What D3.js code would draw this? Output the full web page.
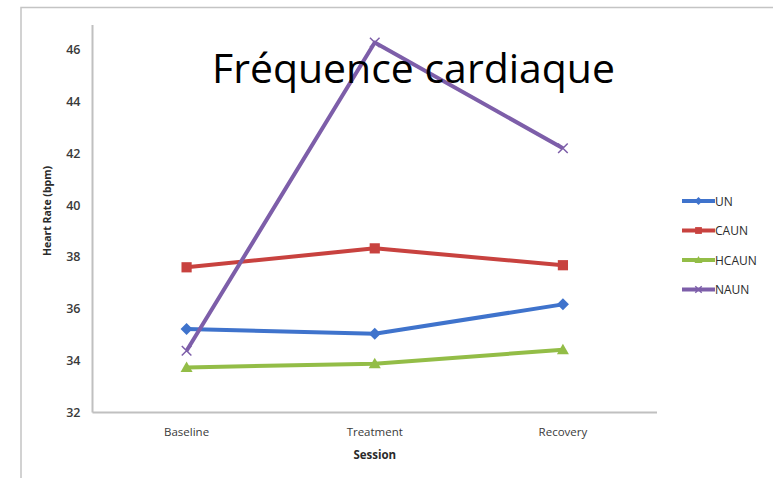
<!DOCTYPE html>
<html>
<head>
<meta charset="utf-8">
<script src="https://cdn.jsdelivr.net/npm/d3@7"></script>
<style>
  html, body { margin: 0; padding: 0; background: #fff; }
  svg { display: block; }
</style>
</head>
<body>
<svg id="chart" width="773" height="478"></svg>
<script>
// Heart rate per session for each group
const sessions = ["Baseline", "Treatment", "Recovery"];
const seriesNames = ["UN", "CAUN", "HCAUN", "NAUN"];
const unValues    = [35.22, 35.04, 36.17];
const caunValues  = [37.60, 38.33, 37.68];
const hcaunValues = [33.74, 33.88, 34.42];
const naunValues  = [34.38, 46.27, 42.19];
const yTicks = [32, 34, 36, 38, 40, 42, 44, 46];

const series = [
  { name: seriesNames[0], values: unValues,    color: "#3f73cc", marker: "diamond" },
  { name: seriesNames[1], values: caunValues,  color: "#c8423f", marker: "square" },
  { name: seriesNames[2], values: hcaunValues, color: "#93bd47", marker: "triangle" },
  { name: seriesNames[3], values: naunValues,  color: "#7d5ea9", marker: "cross" }
];

const svg = d3.select("#chart");
const W = 773, H = 478;

// outer chart frame
svg.append("rect")
  .attr("x", 21).attr("y", 7.5)
  .attr("width", W + 20).attr("height", H + 20)
  .attr("fill", "#fff").attr("stroke", "#c4c4c4").attr("stroke-width", 1.5);

const plot = { left: 92.5, right: 657, top: 25, bottom: 412.5 };

const x = d3.scaleBand().domain(sessions).range([plot.left, plot.right]);
const y = d3.scaleLinear().domain([32, 46.5]).range([plot.bottom, plot.bottom - 14.5 * 25.93]);

// axes
const yAxis = d3.axisLeft(y).tickValues(yTicks).tickSize(0).tickPadding(12).tickFormat(d3.format("d"));
const gy = svg.append("g").attr("transform", `translate(${plot.left},0)`).call(yAxis);
gy.select(".domain").remove();
gy.selectAll("text")
  .attr("font-family", "Open Sans, sans-serif").attr("font-size", 12.5)
  .attr("font-weight", 600).attr("fill", "#3a3a3a");

const xAxis = d3.axisBottom(x).tickSize(0).tickPadding(15);
const gx = svg.append("g").attr("transform", `translate(0,${plot.bottom})`).call(xAxis);
gx.select(".domain").remove();
gx.selectAll("text")
  .attr("font-family", "Open Sans, sans-serif").attr("font-size", 11.5)
  .attr("fill", "#3a3a3a");

// axis lines
svg.append("line")
  .attr("x1", plot.left).attr("x2", plot.left)
  .attr("y1", plot.top).attr("y2", plot.bottom)
  .attr("stroke", "#c0c0c0").attr("stroke-width", 2);
svg.append("line")
  .attr("x1", plot.left).attr("x2", plot.right)
  .attr("y1", plot.bottom).attr("y2", plot.bottom)
  .attr("stroke", "#c0c0c0").attr("stroke-width", 2);

// axis titles
svg.append("text")
  .attr("transform", `translate(51,211) rotate(-90)`)
  .attr("text-anchor", "middle")
  .attr("font-family", "Open Sans, sans-serif").attr("font-size", 10.5)
  .attr("font-weight", 700).attr("fill", "#2a2a2a")
  .text("Heart Rate (bpm)");
svg.append("text")
  .attr("x", x("Treatment") + x.bandwidth() / 2).attr("y", 459)
  .attr("text-anchor", "middle")
  .attr("font-family", "Open Sans, sans-serif").attr("font-size", 11.5)
  .attr("font-weight", 700).attr("fill", "#2a2a2a")
  .text("Session");

const cx = d => x(d) + x.bandwidth() / 2;

function drawMarker(g, type, color, size) {
  const s = size;
  if (type === "diamond") {
    g.append("path").attr("d", `M0,${-s}L${s},0L0,${s}L${-s},0Z`).attr("fill", color);
  } else if (type === "square") {
    g.append("rect").attr("x", -s * 0.85).attr("y", -s * 0.85)
      .attr("width", s * 1.7).attr("height", s * 1.7).attr("fill", color);
  } else if (type === "triangle") {
    g.append("path").attr("d", `M0,${-s}L${s},${s * 0.75}L${-s},${s * 0.75}Z`).attr("fill", color);
  } else {
    g.append("path").attr("d", `M${-s * 0.8},${-s * 0.8}L${s * 0.8},${s * 0.8}M${-s * 0.8},${s * 0.8}L${s * 0.8},${-s * 0.8}`)
      .attr("stroke", color).attr("stroke-width", 1.5).attr("fill", "none");
  }
}

const line = d3.line().x((d, i) => cx(sessions[i])).y(d => y(d));

series.forEach(s => {
  svg.append("path")
    .attr("d", line(s.values))
    .attr("fill", "none").attr("stroke", s.color)
    .attr("stroke-width", 4).attr("stroke-linejoin", "round");
  s.values.forEach((v, i) => {
    const g = svg.append("g").attr("transform", `translate(${cx(sessions[i])},${y(v)})`);
    drawMarker(g, s.marker, s.color, 6);
  });
});

// legend
const legend = svg.append("g");
series.forEach((s, i) => {
  const ly = 201 + i * 29.5;
  legend.append("line")
    .attr("x1", 682).attr("x2", 715).attr("y1", ly).attr("y2", ly)
    .attr("stroke", s.color).attr("stroke-width", 4);
  const g = legend.append("g").attr("transform", `translate(698.5,${ly})`);
  drawMarker(g, s.marker, s.color, 4);
  legend.append("text")
    .attr("x", 715).attr("y", ly + 4.5)
    .attr("font-family", "Open Sans, sans-serif").attr("font-size", 12)
    .attr("fill", "#2a2a2a")
    .text(s.name);
});

// title
svg.append("text")
  .attr("x", 212).attr("y", 83)
  .attr("font-family", "Open Sans, sans-serif").attr("font-size", 41)
  .attr("fill", "#000")
  .attr("textLength", 403).attr("lengthAdjust", "spacingAndGlyphs")
  .text("Fréquence cardiaque");
</script>
</body>
</html>
